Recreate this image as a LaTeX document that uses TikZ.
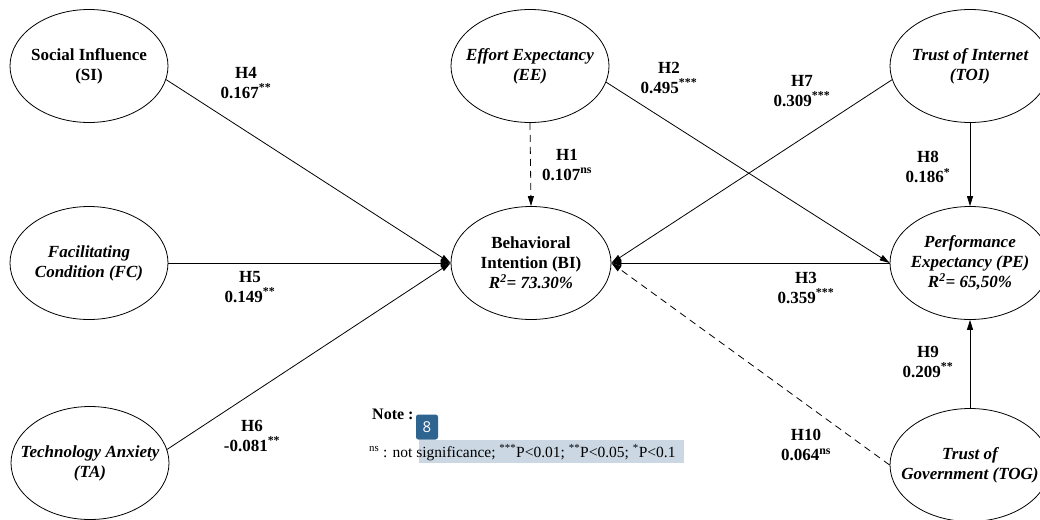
\documentclass[tikz,border=0pt]{standalone}
\usepackage{fontspec}
\setmainfont{Liberation Serif}
\newfontfamily\badgefont{Open Sans}
\usetikzlibrary{shapes.geometric,arrows.meta}
\definecolor{hl}{HTML}{CBD8E4}
\definecolor{badge}{HTML}{2E6490}
\tikzset{
  construct/.style={ellipse,draw,line width=0.8pt,minimum width=158pt,minimum height=113pt,inner sep=0pt},
  ctext/.style={align=center,inner sep=0pt,font=\fontsize{17}{20}\selectfont\bfseries},
  path/.style={line width=0.8pt,-{Triangle[length=10pt,width=6pt]}},
  nspath/.style={path,dash pattern=on 7pt off 5pt},
  lbl/.style={align=center,font=\fontsize{17}{19.5}\selectfont\bfseries,inner sep=0pt}
}
\newcommand{\sig}[1]{\textsuperscript{#1}}
\begin{document}
\begin{tikzpicture}[x=1pt,y=-1pt]
\useasboundingbox (0,0) rectangle (1040,519);
\fill[white] (0,0) rectangle (1040,519);
% constructs
\node[construct] (si) at (89,66) {};
\node[construct] (fc) at (89,263) {};
\node[construct] (ta) at (90,463) {};
\node[construct] (ee) at (530,66) {};
\node[construct,minimum width=160pt] (bi) at (531,263) {};
\node[construct,minimum width=160pt] (toi) at (970,66) {};
\node[construct,minimum width=160pt] (pe) at (970,263) {};
\node[construct,minimum width=160pt] (tog) at (970,465) {};
\node[ctext] (sit) at (si) {Social Influence\\(SI)};
\node[ctext] (fct) at (fc) {\itshape Facilitating\\\itshape Condition (FC)};
\node[ctext] (tat) at (ta) {\itshape Technology Anxiety\\\itshape (TA)};
\node[ctext] (eet) at (ee) {\itshape Effort Expectancy\\\itshape (EE)};
\node[ctext] (bit) at (bi) {Behavioral\\Intention (BI)\\\itshape R\sig{2}= 73.30\%};
\node[ctext] (toit) at (toi) {\itshape Trust of Internet\\\itshape (TOI)};
\node[ctext] (pet) at (pe) {\itshape Performance\\\itshape Expectancy (PE)\\\itshape R\sig{2}= 65,50\%};
\node[ctext] (togt) at (tog) {\itshape Trust of\\\itshape Government (TOG)};
% paths
\draw[path] (si.-10) -- (bi.west);
\draw[path] (fc.east) -- (bi.west);
\draw[path] (ta.10) -- (bi.west);
\draw[nspath] (ee.south) -- (bi.north);
\draw[path] (ee.-12) -- (pe.west);
\draw[path] (toi.190) -- (bi.east);
\draw[path] (pe.west) -- (bi.east);
\draw[nspath] (tog.west) -- (bi.east);
\draw[path] (toi.south) -- (pe.north);
\draw[path] (tog.north) -- (pe.south);
% labels
\node[lbl] (h4) at (246,83) {H4\\0.167\sig{**}};
\node[lbl] (h5) at (250,287) {H5\\0.149\sig{**}};
\node[lbl] (h6) at (252,436) {H6\\-0.081\sig{**}};
\node[lbl] (h1) at (567,165) {H1\\0.107\sig{ns}};
\node[lbl] (h2) at (669,78) {H2\\0.495\sig{***}};
\node[lbl] (h7) at (802,91) {H7\\0.309\sig{***}};
\node[lbl] (h8) at (928,167) {H8\\0.186\sig{*}};
\node[lbl] (h3) at (806,288) {H3\\0.359\sig{***}};
\node[lbl] (h9) at (928,362) {H9\\0.209\sig{**}};
\node[lbl] (h10) at (806,445) {H10\\0.064\sig{ns}};
% note
\fill[hl] (419,440) rectangle (684,463);
\node[anchor=base west,inner sep=0pt,font=\fontsize{16}{18}\selectfont\bfseries] (note) at (372,419) {Note :};
\node[anchor=base west,inner sep=0pt,font=\fontsize{15.5}{18}\selectfont] (notetext) at (369,457) {\sig{ns} : not significance; \sig{***}P<0.01; \sig{**}P<0.05; \sig{*}P<0.1};
\node[fill=badge,rounded corners=2.5pt,minimum width=22pt,minimum height=25pt,inner sep=0pt,text=white,font=\badgefont\fontsize{15}{15}\selectfont] (badge) at (427,427) {8};
\end{tikzpicture}
\end{document}
